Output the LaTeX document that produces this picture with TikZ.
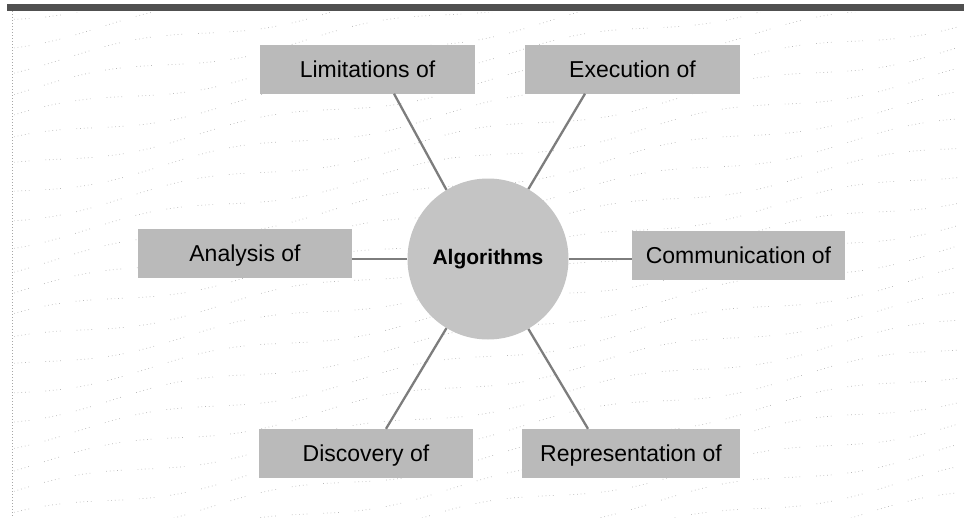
\documentclass[tikz,border=0pt]{standalone}
\usepackage{fontspec}
\setmainfont{Liberation Sans}
\usetikzlibrary{calc}
\definecolor{boxgray}{RGB}{186,186,186}
\definecolor{hubgray}{RGB}{196,196,196}
\definecolor{linkgray}{RGB}{125,125,125}
\definecolor{bargray}{RGB}{80,80,80}
\begin{document}
\begin{tikzpicture}[x=1pt,y=-1pt,
  topic/.style={rectangle, fill=boxgray, minimum height=49pt, inner sep=0pt,
    text depth=0pt, font=\fontsize{23}{27}\selectfont},
  hub/.style={circle, fill=hubgray, minimum size=161pt, inner sep=0pt,
    font=\bfseries\fontsize{21}{25}\selectfont},
  link/.style={draw=linkgray, line width=2.3pt},
  grain/.style={draw=gray!55, line width=0.7pt,
    dash pattern=on 0.7pt off 3pt on 0.7pt off 3pt on 0.7pt off 3pt on 0.7pt off 3pt on 0.7pt off 16pt}]

\useasboundingbox (0,0) rectangle (964,517);
\fill[white] (0,0) rectangle (964,517);

% speckled paper texture
\begin{scope}
  \clip (14,12) rectangle (964,517);
  \foreach \r in {0,...,27} {
    \draw[grain] plot[domain=14:964, samples=90, smooth]
      (\x, {20+\r*25 - 0.18*\x + 6*sin(1.3*\x+47*\r)});
  }
\end{scope}

% header bar and left rule
\fill[bargray] (7,4) rectangle (964,11);
\draw[gray!70, line width=1pt, dash pattern=on 1pt off 2pt] (12,11) -- (12,517);

% central topic
\node[hub] (alg) at (488,259) {Algorithms};

% surrounding topics
\node[topic, minimum width=215pt] (lim) at (367.5,69) {Limitations of};
\node[topic, minimum width=215pt] (exe) at (632.5,69) {Execution of};
\node[topic, minimum width=214pt] (ana) at (245,253.5) {Analysis of};
\node[topic, minimum width=213pt] (com) at (738.5,255) {Communication of};
\node[topic, minimum width=214pt] (dis) at (366,453.5) {Discovery of};
\node[topic, minimum width=218pt] (rep) at (631,453.5) {Representation of};

% spokes
\draw[link] (alg.121) -- ($(lim.south)+(26.5,0)$);
\draw[link] (alg.60) -- ($(exe.south)+(-47.5,0)$);
\draw[link] (alg.239) -- ($(dis.north)+(20,0)$);
\draw[link] (alg.300) -- ($(rep.north)+(-43,0)$);
\draw[link] (alg.west) -- (alg.west -| ana.east);
\draw[link] (alg.east) -- (alg.east -| com.west);
\end{tikzpicture}
\end{document}
